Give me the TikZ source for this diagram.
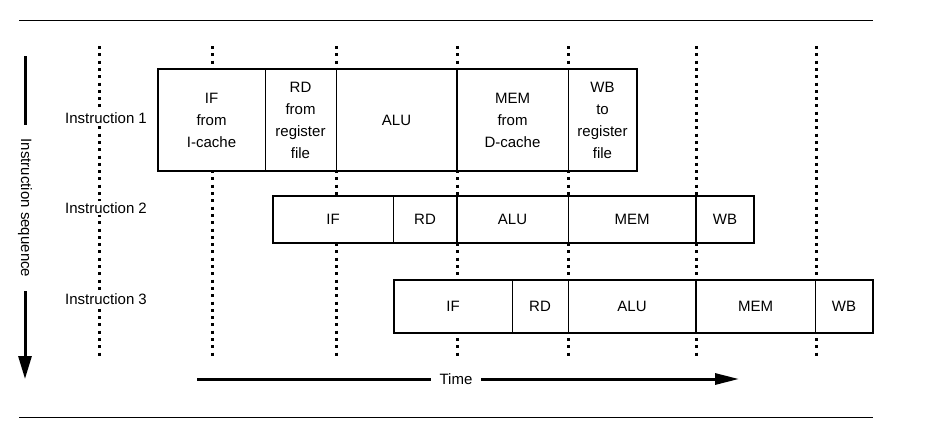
\documentclass[tikz,border=0pt]{standalone}
\usepackage{fontspec}
\setmainfont{Liberation Sans}
\usetikzlibrary{positioning,arrows.meta}

\begin{document}
\begin{tikzpicture}[x=1pt, y=-1pt,
      every node/.append style={font=\fontsize{15}{22}\selectfont},
      stage/.style={draw, fill=white, line width=1pt, outer sep=0pt, inner sep=0pt, align=center},
      rowA/.style={stage, minimum height=102pt},
      rowB/.style={stage, minimum height=47pt},
      rowC/.style={stage, minimum height=53pt},
      frame/.style={line width=2pt},
      cycle/.style={line width=3pt, dash pattern=on 3pt off 4.3pt},
      instr/.style={fill=white, inner sep=1pt},
      axis/.style={line width=3pt}]
    \useasboundingbox (0,0) rectangle (940,432);
    \draw[line width=1pt] (19,20) -- (873,20) (19,417) -- (873,417);
    \draw[cycle] (99,46) -- (99,356) (212,46) -- (212,356) (336,46) -- (336,356)
      (457,46) -- (457,356) (568,46) -- (568,356) (696,46) -- (696,356) (816,46) -- (816,356);
    \node (instA) [instr] at (106,118) {Instruction 1};
    \node (instB) [instr] at (106,208) {Instruction 2};
    \node (instC) [instr] at (106,299) {Instruction 3};
    \node (ifA) [rowA, minimum width=107pt, anchor=west] at (158,120) {IF\\from\\I-cache};
    \node (rdA) [rowA, minimum width=71pt, right=0pt of ifA] {RD\\from\\register\\file};
    \node (aluA) [rowA, minimum width=121pt, right=0pt of rdA] {ALU};
    \node (memA) [rowA, minimum width=111pt, right=0pt of aluA] {MEM\\from\\D-cache};
    \node (wbA) [rowA, minimum width=69pt, right=0pt of memA] {WB\\to\\register\\file};
    \node (ifB) [rowB, minimum width=120pt, anchor=west] at (273,219.5) {IF};
    \node (rdB) [rowB, minimum width=64pt, right=0pt of ifB] {RD};
    \node (aluB) [rowB, minimum width=111pt, right=0pt of rdB] {ALU};
    \node (memB) [rowB, minimum width=128pt, right=0pt of aluB] {MEM};
    \node (wbB) [rowB, minimum width=58pt, right=0pt of memB] {WB};
    \node (ifC) [rowC, minimum width=118pt, anchor=west] at (394,306.5) {IF};
    \node (rdC) [rowC, minimum width=56pt, right=0pt of ifC] {RD};
    \node (aluC) [rowC, minimum width=128pt, right=0pt of rdC] {ALU};
    \node (memC) [rowC, minimum width=119pt, right=0pt of aluC] {MEM};
    \node (wbC) [rowC, minimum width=58pt, right=0pt of memC] {WB};
    \draw[frame] (ifA.north west) rectangle (wbA.south east);
    \draw[frame] (ifB.north west) rectangle (wbB.south east);
    \draw[frame] (ifC.north west) rectangle (wbC.south east);
    \draw[frame] (memA.north west) -- (memA.south west);
    \draw[frame] (aluB.north west) -- (aluB.south west);
    \draw[frame] (wbB.north west) -- (wbB.south west);
    \draw[frame] (memC.north west) -- (memC.south west);
    \coordinate (seqTop) at (25,56);
    \coordinate (seqEnd) at (25,379);
    \node (seq) [rotate=-90, inner xsep=14pt, inner ysep=0pt] at (25,208) {Instruction sequence};
    \draw[axis] (seqTop) -- (seq.west);
    \draw[axis, -{Triangle[length=23pt,width=13pt]}] (seq.east) -- (seqEnd);
    \coordinate (timeStart) at (197,379);
    \coordinate (timeEnd) at (739,379);
    \node (time) [inner xsep=8.5pt, inner ysep=0pt] at (456,379) {Time};
    \draw[axis] (timeStart) -- (time.west);
    \draw[axis, -{Triangle[length=24pt,width=11pt]}] (time.east) -- (timeEnd);
  \end{tikzpicture}
\end{document}
